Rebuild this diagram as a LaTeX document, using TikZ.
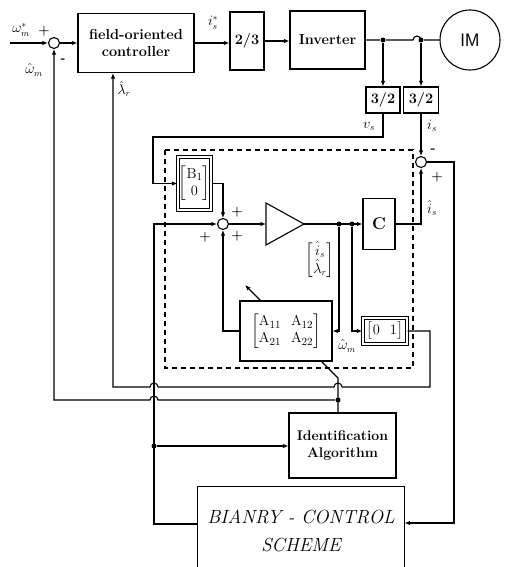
\documentclass[tikz,border=0pt]{standalone}
\usepackage{amsmath}
\usetikzlibrary{arrows.meta}
\begin{document}
\begin{tikzpicture}[x=1pt,y=-1pt,
  line width=1.1pt,
  blk/.style={draw, fill=white, inner sep=0pt, align=center, font=\fontsize{14.5}{17}\selectfont\bfseries},
  dblk/.style={draw, double, double distance=1.8pt, fill=white, inner sep=0pt, align=center, font=\fontsize{14}{15}\selectfont},
  sumnode/.style={draw, circle, fill=white, minimum size=11pt, inner sep=0pt},
  arr/.style={-{Latex[length=5.5pt,width=4.5pt]}},
  jdot/.style={circle, fill, inner sep=0pt, minimum size=5pt},
  lbl/.style={inner sep=1pt, font=\fontsize{13.5}{15}\selectfont},
  sgn/.style={inner sep=0pt, font=\fontsize{13}{14}\selectfont\bfseries}
]
\useasboundingbox (0,0) rectangle (504,567);

% ---- top row
\node[sumnode] (sum1) at (54,43) {};
\node[blk, minimum width=116pt, minimum height=59pt] (foc) at (136,43) {field-oriented\\controller};
\node[blk, minimum width=34pt, minimum height=58pt] (t23) at (247,41) {2/3};
\node[blk, minimum width=75pt, minimum height=58pt] (inv) at (327.5,40) {Inverter};
\node[draw, circle, minimum size=60pt, inner sep=0pt, font=\fontsize{18}{20}\selectfont\sffamily] (im) at (470,40) {IM};
\node[blk, minimum width=34pt, minimum height=26pt] (c32a) at (383,100) {3/2};
\node[blk, minimum width=35pt, minimum height=26pt] (c32b) at (421,100) {3/2};
\node[jdot] (d1) at (383,40) {};
\node[jdot] (d2) at (421,40) {};
\coordinate (in) at (10,43);

% ---- observer
\draw[dashed, dash pattern=on 5pt off 4pt] (165,150) rectangle (413,368);
\node[sumnode] (sum2) at (421,162) {};
\node[sumnode] (sum3) at (223,224) {};
\node[dblk, minimum width=33pt, minimum height=53pt, font=\fontsize{15}{17}\selectfont] (B) at (194.5,183.5) {$\begin{bmatrix}\mathrm{B}_1\\ 0\end{bmatrix}$};
\coordinate (ampin) at (266,224);
\coordinate (ampout) at (304,224);
\draw (266,203) -- (ampout) -- (266,245) -- cycle;
\node[blk, minimum width=32pt, minimum height=51pt, font=\fontsize{17}{19}\selectfont\bfseries] (C) at (379,224) {C};
\node[jdot] (s1) at (339,224) {};
\node[jdot] (s2) at (352,224) {};
\coordinate (wdot0) at (338,400);
\coordinate (wmid) at (338,378);
\coordinate (wtip) at (245,285);
% identification & binary control
\node[blk, minimum width=107pt, minimum height=65pt, font=\fontsize{14}{17}\selectfont\bfseries] (ident) at (342.5,445.5) {Identification\\Algorithm};
\node[inner sep=0pt, minimum width=206pt, minimum height=88pt, align=center, font=\fontsize{19}{28}\selectfont\itshape] (bcs) at (301,531) {BIANRY - CONTROL\\SCHEME};
\draw (bcs.south west) -- (bcs.north west) -- (bcs.north east) -- (bcs.south east);

% omega-hat line to A (parameter arrow), drawn before A box
\draw[arr] (ident.north -| wdot0) -- (wdot0) -- (wmid) -- (wtip);
\node[jdot] (wdot) at (wdot0) {};
\node[blk, minimum width=92pt, minimum height=60pt, font=\fontsize{15}{17}\selectfont] (A) at (286,331) {$\begin{bmatrix}\mathrm{A}_{11} & \mathrm{A}_{12}\\ \mathrm{A}_{21} & \mathrm{A}_{22}\end{bmatrix}$};
\node[dblk, minimum width=44pt, minimum height=26pt, font=\fontsize{15}{16}\selectfont] (z) at (385,331) {$\begin{bmatrix}0 & 1\end{bmatrix}$};

% ---- connectors top
\draw[arr] (in) -- (sum1.west);
\draw[arr] (sum1.east) -- (foc.west);
\draw[arr] (foc.east) -- (t23.west |- foc.east);
\draw[arr] (t23.east) -- (inv.west |- t23.east);
\draw (inv.east) -- (d1) -- (413,40) arc[start angle=180, end angle=0, radius=4pt] -- (d2) -- (im.west);
\draw[arr] (d1) -- (c32a.north);
\draw[arr] (d2) -- (c32b.north);

% v_s to B
\coordinate (vsL) at (153,137);
\draw[arr] (c32a.south) -- (c32a.south |- vsL) -- (vsL) -- (vsL |- B.west) -- (B.west);
% i_s to sum2
\draw[arr] (c32b.south) -- (sum2.north);
% C output to sum2
\draw[arr] (C.east) -- (C.east -| sum2) -- (sum2.south);
% error to binary control
\coordinate (eR) at (454,523);
\draw[arr] (sum2.east) -- (sum2.east -| eR) -- (eR) -- (bcs.east |- eR);
% binary control output
\coordinate (uL) at (154,524);
\coordinate (udot0) at (154,446);
\draw[arr] (bcs.west |- uL) -- (uL) -- (uL |- sum3.west) -- (sum3.west);
\node[jdot] (udot) at (udot0) {};
\draw[arr] (udot) -- (ident.west |- udot);
% B to sum3
\draw[arr] (B.east) -- (B.east -| sum3) -- (sum3.north);
% sum3 to amp, amp to C
\draw[arr] (sum3.east) -- (ampin);
\draw[arr] (ampout) -- (C.west);
% state feedback
\draw[arr] (s1) -- (s1 |- A.east) -- (A.east);
\draw[arr] (s2) -- (s2 |- z.west) -- (z.west);
\draw[arr] (A.west) -- (A.west -| sum3) -- (sum3.south);
% lambda-hat back to controller
\coordinate (lamR) at (430,387);
\coordinate (lamL) at (113,387);
\draw[arr] (z.east) -- (z.east -| lamR) -- (lamR) -- (342,387) arc[start angle=0, end angle=180, radius=4pt] -- (158,387) arc[start angle=0, end angle=180, radius=4pt] -- (lamL) -- (lamL |- foc.south);
% omega-hat back to sum1
\coordinate (wL) at (54,400);
\draw[arr] (wdot) -- (158,400) arc[start angle=0, end angle=180, radius=4pt] -- (wL) -- (sum1.south);

% ---- labels
\node[lbl] (l1) at (21,30) {$\omega_m^*$};
\node[sgn] (p1) at (44,31) {+};
\node[sgn] (m1) at (63,61) {-};
\node[lbl] (l2) at (34,70) {$\hat{\omega}_m$};
\node[lbl] (l3) at (213,23) {$i_s^*$};
\node[lbl] (l4) at (124,89) {$\hat{\lambda}_r$};
\node[lbl] (l5) at (369,126) {$v_s$};
\node[lbl] (l6) at (432,126) {$i_s$};
\node[sgn] (m2) at (433,151) {-};
\node[sgn] (p2) at (437,177) {+};
\node[lbl] (l7) at (432,208) {$\hat{i}_s$};
\node[sgn] (p3) at (237,212) {+};
\node[sgn] (p4) at (237,236) {+};
\node[sgn] (p5) at (205,237) {+};
\node[lbl] (l8) at (320,260) {$\begin{bmatrix}\hat{i}_s\\ \hat{\lambda}_r\end{bmatrix}$};
\node[lbl] (l9) at (347,346) {$\hat{\omega}_m$};
\end{tikzpicture}
\end{document}
